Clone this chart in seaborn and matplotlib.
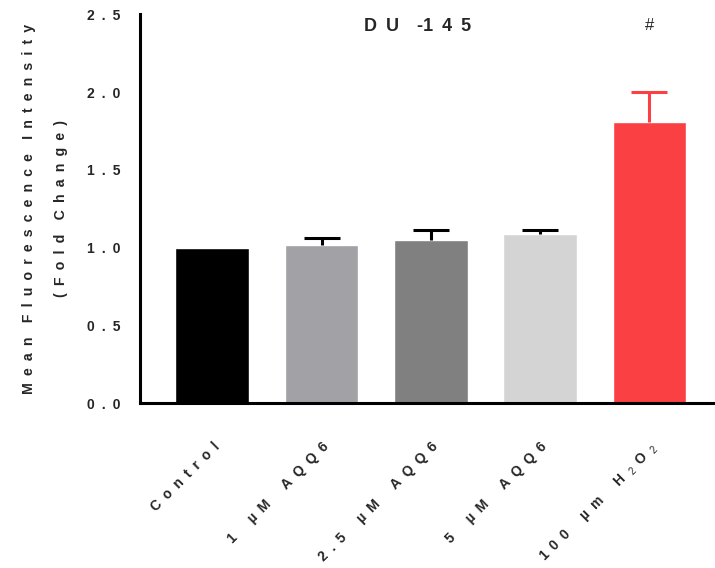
import numpy as np
import pandas as pd
import matplotlib
matplotlib.use('Agg')
import matplotlib.pyplot as plt
import seaborn as sns

sns.set_style('white')
plt.rcParams['font.family'] = ['Liberation Sans', 'DejaVu Sans']
plt.rcParams['mathtext.fontset'] = 'custom'
plt.rcParams['mathtext.rm'] = 'Liberation Sans'

# data
groups = ['Control', '1 µM AQQ6', '2.5 µM AQQ6', '5 µM AQQ6', '100 µm H2O2']
means = [1.00, 1.02, 1.046, 1.088, 1.81]
sem_up = [0.0, 0.045, 0.065, 0.025, 0.19]
colors = ['#000000', '#A1A1A6', '#808080', '#D4D4D4', '#FA4043']
err_colors = ['#000000', '#000000', '#000000', '#000000', '#FA4043']

SP = '\u2002'  # en space for the wide letter spacing


def spaced(s, gap=2):
    # GraphPad-style letter spacing
    return (SP * gap).join(SP.join(w) for w in s.split(' '))


tick_labels = [spaced('Control'), spaced('1 µM AQQ6', 3), spaced('2.5 µM AQQ6', 3),
               spaced('5 µM AQQ6', 3),
               spaced('100 µm H', 3) + SP + '$_2$' + SP + 'O' + SP + '$_2$']

df = pd.DataFrame({'group': groups, 'mean': means})

fig = plt.figure(figsize=(7.15, 5.68), dpi=100)
ax = fig.add_axes([0.196, 0.29, 0.801, 0.685])

sns.barplot(data=df, x='group', y='mean', hue='group', palette=colors,
            width=0.675, saturation=1, legend=False, ax=ax, errorbar=None)

xs = np.arange(len(groups))
for x, m, e, c in zip(xs, means, sem_up, err_colors):
    if e > 0:
        _, caps, _ = ax.errorbar(x, m, yerr=[[0], [e]], fmt='none', ecolor=c,
                                 elinewidth=2.2, capsize=13, capthick=2.2)
        caps[0].set_visible(False)  # only the upper cap

ax.set_xlim(-0.66, 4.58)
ax.set_ylim(0, 2.5)
yt = [0, 0.5, 1.0, 1.5, 2.0, 2.5]
ax.set_yticks(yt)
ax.set_yticklabels([spaced(f'{v:.1f}') for v in yt], fontsize=10, fontweight='bold')
ax.set_xticks(xs)
ax.set_xticklabels(tick_labels, rotation=45, ha='right', va='top',
                   rotation_mode='anchor', fontsize=10, fontweight='bold')
ax.set_xlabel('')
ax.set_ylabel(spaced('Mean Fluorescence Intensity') + '\n' + spaced('(Fold Change)'),
              fontsize=10.2, fontweight='bold', labelpad=14, linespacing=2.6)

for side in ['top', 'right']:
    ax.spines[side].set_visible(False)
for side in ['left', 'bottom']:
    ax.spines[side].set_linewidth(2.2)
    ax.spines[side].set_color('black')
ax.tick_params(axis='both', direction='out', length=6, width=2.2, color='black')
ax.tick_params(axis='x', pad=20)
ax.tick_params(axis='y', pad=8)

title = 'D' + SP + 'U' + SP * 2 + '-1' + SP + '4' + SP + '5'
ax.text(0.485, 0.968, title, transform=ax.transAxes, ha='center',
        va='center', fontsize=13, fontweight='bold')
ax.text(4, 2.43, '#', ha='center', va='center', fontsize=12)

fig.savefig('out.png', dpi=100)
